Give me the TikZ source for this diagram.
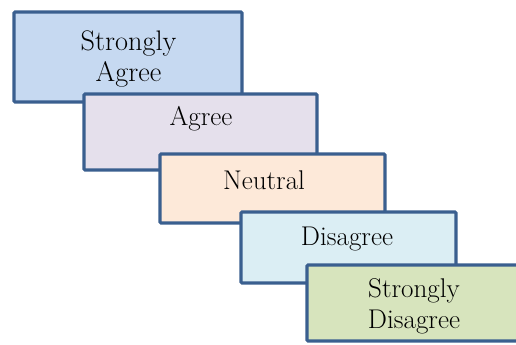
\documentclass[tikz,border=0pt]{standalone}
\definecolor{edge}{HTML}{3A5F8F}
\definecolor{fa}{HTML}{C6D9F1}
\definecolor{fb}{HTML}{E5E0EC}
\definecolor{fc}{HTML}{FDE9D9}
\definecolor{fd}{HTML}{DBEEF4}
\definecolor{fe}{HTML}{D7E4BD}
\tikzset{
  card/.style={draw=edge, line width=2.4pt, rounded corners=0.8pt},
  lbl/.style={font=\rmfamily\fontsize{20.3}{23}\selectfont, align=center, inner sep=0pt, text=black},
  lblbig/.style={font=\rmfamily\fontsize{21.2}{23.5}\selectfont, align=center, inner sep=0pt, text=black}
}
\begin{document}
\begin{tikzpicture}[x=0.75pt,y=-0.75pt]
\useasboundingbox (0,0) rectangle (516,345);
\begin{scope}
\clip (0,0) rectangle (516,345);
\path[card, fill=fa] (14,12) rectangle (242,102);
\node[lblbig] (t1) at (128.5,59) {Strongly\\Agree};
\path[card, fill=fb] (84,94) rectangle (317,170);
\node[lbl] (t2) at (201,119) {Agree};
\path[card, fill=fc] (160,154) rectangle (385,223);
\node[lbl] (t3) at (264,180) {Neutral};
\path[card, fill=fd] (241,212) rectangle (456,283);
\node[lbl] (t4) at (347,239) {Disagree};
\path[card, fill=fe] (307,265) rectangle (522,341);
\node[lbl] (t5) at (414,306) {Strongly\\Disagree};
\end{scope}
\end{tikzpicture}
\end{document}
